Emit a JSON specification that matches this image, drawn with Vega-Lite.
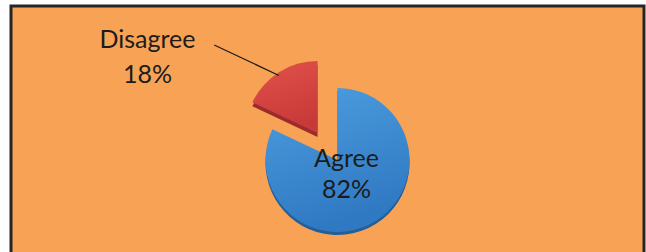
{
  "$schema": "https://vega.github.io/schema/vega-lite/v6.json",
  "width": 633,
  "height": 250,
  "autosize": "none",
  "padding": {"left": 11, "top": 6, "right": 2, "bottom": 0},
  "background": "#ffffff",
  "view": {"fill": "#F7A254", "stroke": "#262626", "strokeWidth": 3},
  "data": {
    "values": [
      {"category": "Agree", "value": 82, "label": "Agree\n82%"},
      {"category": "Disagree", "value": 18, "label": "Disagree\n18%"}
    ]
  },
  "transform": [
    {"stack": "value", "groupby": [], "sort": [{"field": "category", "order": "ascending"}], "as": ["v0", "v1"]}
  ],
  "encoding": {
    "theta": {"field": "v0", "type": "quantitative", "scale": {"domain": [0, 100]}},
    "theta2": {"field": "v1"}
  },
  "layer": [
    {
      "transform": [{"filter": "datum.category === 'Agree'"}],
      "mark": {"type": "arc", "radius": 72, "xOffset": 10, "yOffset": 32, "color": "#235E99"}
    },
    {
      "transform": [{"filter": "datum.category === 'Agree'"}],
      "mark": {
        "type": "arc", "radius": 72, "xOffset": 10, "yOffset": 29,
        "color": {"gradient": "linear", "x1": 0, "y1": 0, "x2": 0.3, "y2": 1,
          "stops": [{"offset": 0, "color": "#4E9EE0"}, {"offset": 1, "color": "#2F79C2"}]}
      }
    },
    {
      "transform": [{"filter": "datum.category === 'Disagree'"}],
      "mark": {"type": "arc", "radius": 72, "xOffset": -10, "yOffset": 6, "color": "#9C2B2B"}
    },
    {
      "transform": [{"filter": "datum.category === 'Disagree'"}],
      "mark": {
        "type": "arc", "radius": 72, "xOffset": -10, "yOffset": 2,
        "color": {"gradient": "linear", "x1": 0, "y1": 0, "x2": 0.3, "y2": 1,
          "stops": [{"offset": 0, "color": "#E2524C"}, {"offset": 1, "color": "#C83A38"}]}
      }
    },
    {
      "transform": [{"filter": "datum.category === 'Disagree'"}],
      "mark": {"type": "arc", "radius": 91.5, "radius2": 20, "xOffset": -30.5, "yOffset": -47, "fill": null, "filled": false, "stroke": "#1a1a1a", "strokeWidth": 1.2},
      "encoding": {"theta2": {"field": "v0"}}
    },
    {
      "transform": [{"filter": "datum.category === 'Agree'"}],
      "mark": {"type": "text", "font": "Lato", "fontSize": 25, "color": "#1c1c1c", "align": "center", "baseline": "alphabetic", "lineBreak": "\n", "lineHeight": 31, "dx": 19, "dy": 36},
      "encoding": {"text": {"field": "label"}, "theta": null, "theta2": null}
    },
    {
      "transform": [{"filter": "datum.category === 'Disagree'"}],
      "mark": {"type": "text", "font": "Lato", "fontSize": 25, "color": "#1c1c1c", "align": "center", "baseline": "alphabetic", "lineBreak": "\n", "lineHeight": 35, "dx": -180, "dy": -83},
      "encoding": {"text": {"field": "label"}, "theta": null, "theta2": null}
    }
  ]
}
